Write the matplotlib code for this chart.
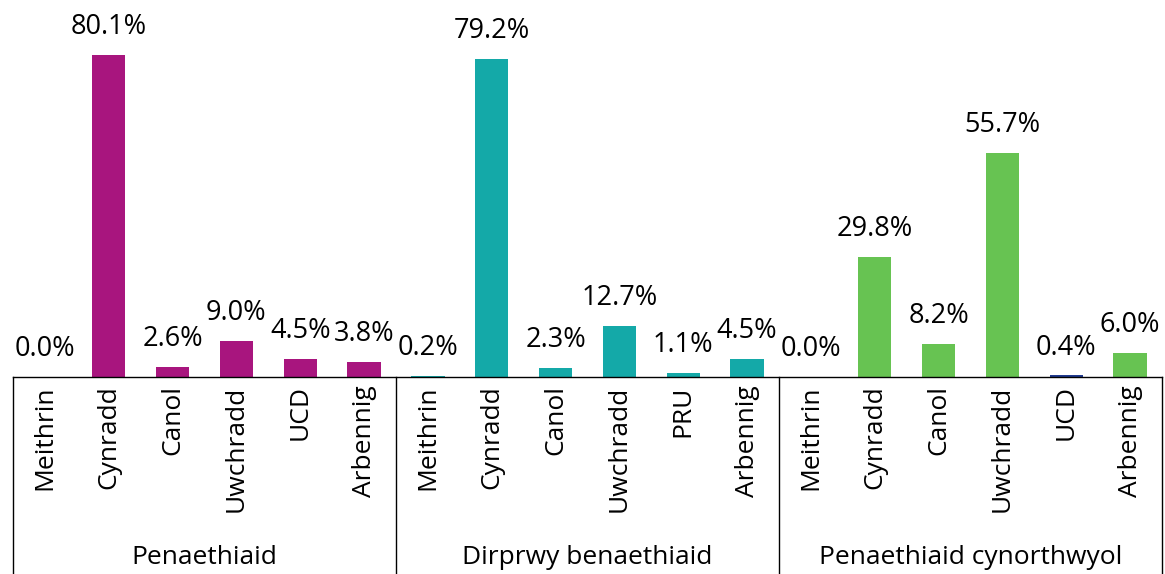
import matplotlib

matplotlib.use("Agg")
import matplotlib.pyplot as plt
import matplotlib.transforms as mtransforms
import numpy as np

plt.rcParams["font.family"] = ["Open Sans", "DejaVu Sans"]

GROUPS = ["Penaethiaid", "Dirprwy benaethiaid", "Penaethiaid cynorthwyol"]
LABELS_HEAD = ["Meithrin", "Cynradd", "Canol", "Uwchradd", "UCD", "Arbennig"]
LABELS_DEPUTY = ["Meithrin", "Cynradd", "Canol", "Uwchradd", "PRU", "Arbennig"]
LABELS_ASSIST = ["Meithrin", "Cynradd", "Canol", "Uwchradd", "UCD", "Arbennig"]
VALUES_HEAD = [0.0, 80.1, 2.6, 9.0, 4.5, 3.8]
VALUES_DEPUTY = [0.2, 79.2, 2.3, 12.7, 1.1, 4.5]
VALUES_ASSIST = [0.0, 29.8, 8.2, 55.7, 0.4, 6.0]

MAGENTA = "#a8157e"
TEAL = "#14a9a8"
GREEN = "#67c352"
NAVY = "#203a8f"


def main() -> None:
    labels = LABELS_HEAD + LABELS_DEPUTY + LABELS_ASSIST
    values = VALUES_HEAD + VALUES_DEPUTY + VALUES_ASSIST
    colors = [MAGENTA] * 6 + [TEAL] * 6 + [GREEN] * 4 + [NAVY] + [GREEN]
    x = np.arange(len(values))

    fig = plt.figure(figsize=(11.65, 5.74), dpi=100)
    ax = fig.add_axes([13 / 1165, 197 / 574, 1149 / 1165, 377 / 574])
    bars = ax.bar(x, values, width=0.52, color=colors)
    for bar, val in zip(bars, values):
        ax.annotate(
            f"{val:.1f}%",
            (bar.get_x() + bar.get_width() / 2, bar.get_height()),
            xytext=(0, 10),
            textcoords="offset points",
            ha="center",
            va="bottom",
            fontsize=19.5,
        )

    ax.set_xlim(-0.5, len(values) - 0.5)
    ax.set_ylim(0, 93.8)
    ax.set_yticks([])
    ax.set_xticks(x)
    ax.set_xticklabels(labels, rotation=90, fontsize=19)
    ax.tick_params(axis="x", length=0, pad=6)
    for side in ["top", "left", "right"]:
        ax.spines[side].set_visible(False)
    ax.spines["bottom"].set_color("black")
    ax.spines["bottom"].set_linewidth(1.0)

    trans = mtransforms.blended_transform_factory(ax.transData, ax.transAxes)
    depth = -197 / 377
    for edge in [-0.5, 5.5, 11.5, 17.5]:
        ax.plot([edge, edge], [0, depth], transform=trans, color="black",
                linewidth=1.0, clip_on=False)
    for i, name in enumerate(GROUPS):
        ax.text(i * 6 + 2.5, -0.48, name, transform=trans, ha="center",
                va="center", fontsize=19)

    fig.savefig("out.png", dpi=100)
    plt.close(fig)


if __name__ == "__main__":
    main()
